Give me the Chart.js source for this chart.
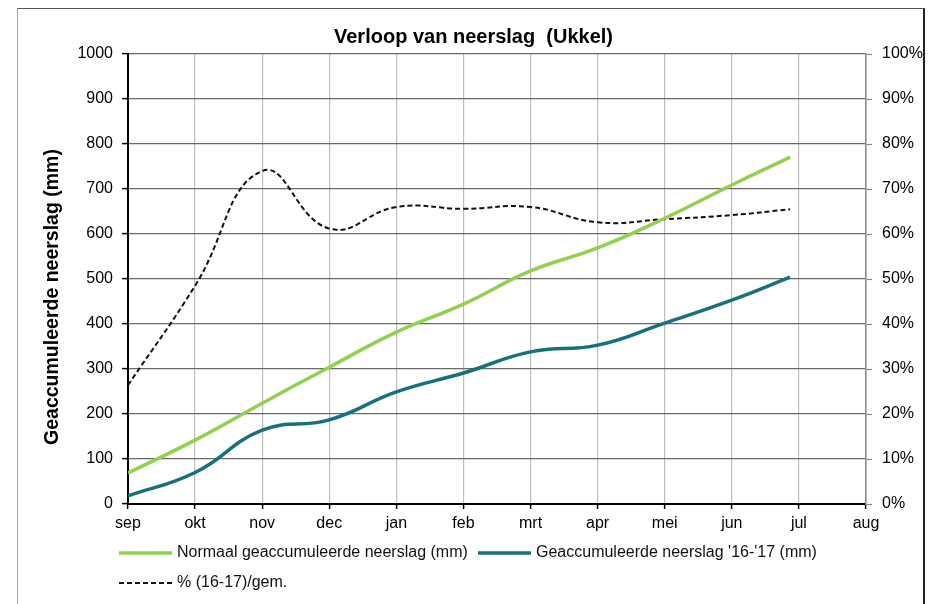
<!DOCTYPE html>
<html>
<head>
<meta charset="utf-8">
<script src="https://cdn.jsdelivr.net/npm/chart.js@4.4.1/dist/chart.umd.min.js"></script>
<style>
  html, body { margin: 0; padding: 0; background: #fff; }
  #wrap { position: relative; width: 930px; height: 604px; }
  #frame { position: absolute; left: 17px; top: 8px; width: 905px; height: 620px;
           border-left: 1px solid #aaa; border-top: 1px solid #555; border-right: 2px solid #222; pointer-events: none; }
  canvas { position: absolute; left: 0; top: 0; }
</style>
</head>
<body>
<div id="wrap">
  <canvas id="c" width="930" height="604"></canvas>
  <div id="frame"></div>
</div>
<script>
// ---- data ----
const monthLabels = ['sep','okt','nov','dec','jan','feb','mrt','apr','mei','jun','jul','aug'];
const pointMonths = [0, 1, 2, 3, 4, 5, 6, 7, 8, 9, 9.87];   // position in months since 1 sep
const normalMm = [69, 142, 224, 304, 382, 444, 518, 569, 635, 709, 771];
const actualMm = [18, 70, 164, 187, 249, 291, 338, 353, 402, 453, 504];
const pctOfNormal = [26.4, 48.5, 74, 61.2, 66, 65.6, 66, 62.6, 63.3, 64.2, 65.5];
const leftTicks = [0, 1000, 100];
const rightTicks = [0, 100, 10];
const yTitle = 'Geaccumuleerde neerslag (mm)';

const toXY = (vals) => vals.map((v, i) => ({ x: pointMonths[i], y: v }));

const FONT = "'Liberation Sans', Arial, sans-serif";

const legendPlugin = {
  id: 'customLegend',
  afterDraw(chart) {
    const ctx = chart.ctx;
    const ds = chart.data.datasets;
    const rows = [
      { y: 553, items: [{ d: ds[0], x: 119 }, { d: ds[1], x: 478 }] },
      { y: 583, items: [{ d: ds[2], x: 119 }] }
    ];
    ctx.save();
    ctx.font = '16px ' + FONT;
    ctx.textBaseline = 'middle';
    ctx.fillStyle = '#111';
    rows.forEach(r => {
      r.items.forEach(it => {
        ctx.beginPath();
        ctx.strokeStyle = it.d.borderColor;
        ctx.lineWidth = it.d.borderWidth;
        ctx.setLineDash(it.d.borderDash || []);
        ctx.moveTo(it.x, r.y);
        ctx.lineTo(it.x + 53, r.y);
        ctx.stroke();
        ctx.setLineDash([]);
        ctx.fillText(it.d.label, it.x + 58, r.y);
      });
    });
    // y axis title
    ctx.save();
    ctx.translate(53, 297);
    ctx.rotate(-Math.PI / 2);
    ctx.font = 'bold 19.5px ' + FONT;
    ctx.textAlign = 'center';
    ctx.fillStyle = '#000';
    ctx.fillText(yTitle, 0, 0);
    ctx.restore();
    ctx.restore();
  }
};

new Chart(document.getElementById('c'), {
  type: 'line',
  data: {
    datasets: [
      { label: 'Normaal geaccumuleerde neerslag (mm)', data: toXY(normalMm), yAxisID: 'y',
        borderColor: '#92d050', borderWidth: 3.5, pointRadius: 0, tension: 0.45, fill: false },
      { label: "Geaccumuleerde neerslag '16-'17 (mm)", data: toXY(actualMm), yAxisID: 'y',
        borderColor: '#17707a', borderWidth: 3.5, pointRadius: 0, tension: 0.45, fill: false },
      { label: '% (16-17)/gem.', data: toXY(pctOfNormal), yAxisID: 'y1',
        borderColor: '#111', borderWidth: 2, borderDash: [5, 3], pointRadius: 0, tension: 0.45, fill: false }
    ]
  },
  options: {
    responsive: false,
    animation: false,
    layout: { padding: { left: 17, right: 0, top: 0, bottom: 0 } },
    plugins: {
      legend: { display: false },
      tooltip: { enabled: false },
      title: {
        display: true,
        text: 'Verloop van neerslag  (Ukkel)',
        color: '#000',
        font: { family: FONT, size: 20, weight: 'bold' },
        padding: { top: 25, bottom: 5 }
      }
    },
    scales: {
      x: {
        type: 'linear', min: 0, max: 11,
        afterFit(s) { s.height = 100; },
        ticks: { stepSize: 1, autoSkip: false, maxRotation: 0, padding: 5, color: '#000',
                 font: { family: FONT, size: 16 },
                 callback: (v) => monthLabels[v] },
        grid: { color: '#bdbdbd', lineWidth: 1.2, tickColor: '#000', tickLength: 5, tickWidth: 1.5 },
        border: { color: '#000', width: 2 }
      },
      y: {
        position: 'left', min: leftTicks[0], max: leftTicks[1],
        afterFit(s) { s.width = 111; },
        ticks: { stepSize: leftTicks[2], padding: 9, color: '#000', font: { family: FONT, size: 16 },
                 callback: (v) => String(v) },
        grid: { color: '#6a6a6a', lineWidth: 1.2, tickColor: '#000', tickLength: 6, tickWidth: 1.5 },
        border: { color: '#000', width: 2 }
      },
      y1: {
        position: 'right', min: rightTicks[0], max: rightTicks[1],
        afterFit(s) { s.width = 64; },
        ticks: { stepSize: rightTicks[2], padding: 10, color: '#000', font: { family: FONT, size: 16 },
                 callback: (v) => v + '%' },
        grid: { drawOnChartArea: false, tickColor: '#888', tickLength: 6, tickWidth: 1.2 },
        border: { color: '#8a8a8a', width: 1.5 }
      }
    }
  },
  plugins: [legendPlugin]
});
</script>
</body>
</html>
